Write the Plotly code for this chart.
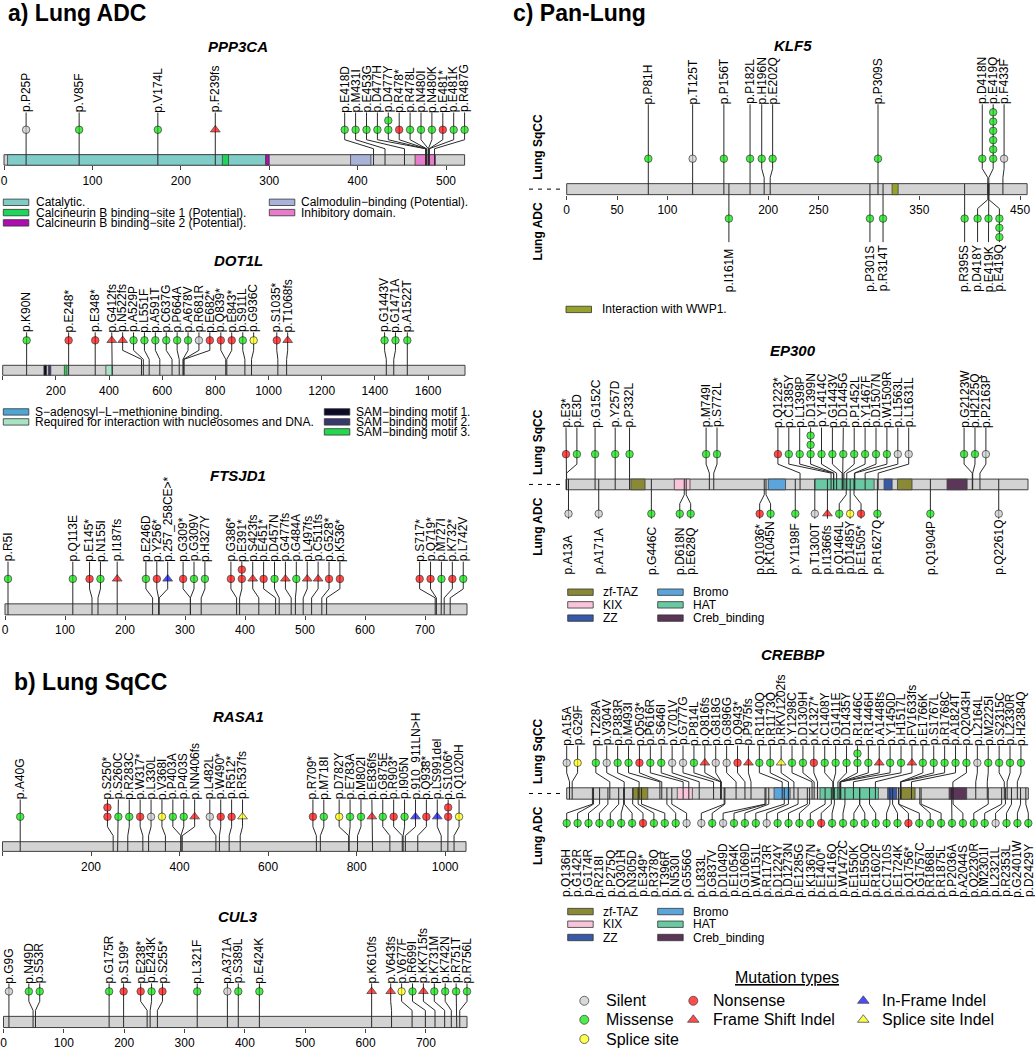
import re
import plotly.graph_objects as go

W, H = 1035, 1050
FONT = "Liberation Sans, Arial, Helvetica, sans-serif"

# ---------------- data ----------------
# mutation type codes: S silent, M missense, N nonsense, P splice site,
# F frame shift indel, I in-frame indel, Q splice site indel
TYPE_NAME = {"S": "Silent", "M": "Missense", "P": "Splice site", "N": "Nonsense",
             "F": "Frame Shift Indel", "I": "In-Frame Indel", "Q": "Splice site Indel"}
TYPE_COLOR = {"S": "#C8C8C8", "M": "#00E400", "N": "#FF0000", "P": "#FFFF00",
              "F": "#FF0000", "I": "#0000FF", "Q": "#FFFF00"}
TYPE_SYMBOL = {"S": "circle", "M": "circle", "N": "circle", "P": "circle",
               "F": "triangle-up", "I": "triangle-up", "Q": "triangle-up"}

PPP3CA_LEN = 521
PPP3CA_LABELS = ["p.P25P", "p.V85F", "p.V174L", "p.F239fs", "p.E418D", "p.M431I", "p.E453G",
                 "p.D477H", "p.D477Y", "p.R478*", "p.R478L", "p.N480I", "p.N480K", "p.E481*",
                 "p.E481K", "p.R487G"]
PPP3CA_TYPES = ["S", "M", "M", "F", "M", "M", "M", "M", "M", "N", "M", "M", "M", "N", "M", "M"]
PPP3CA_STACK = {"p.D477Y": 2}
PPP3CA_DOMAINS = [(4, 296, "Catalytic."),
                  (247, 254, "Calcineurin B binding−site 1 (Potential)."),
                  (296, 300, "Calcineurin B binding−site 2 (Potential)."),
                  (392, 415, "Calmodulin−binding (Potential)."),
                  (465, 488, "Inhibitory domain.")]

DOT1L_LEN = 1739
DOT1L_LABELS = ["p.K90N", "p.E248*", "p.E348*", "p.G412fs", "p.N522fs", "p.A529P", "p.L551F",
                "p.A591T", "p.C637G", "p.P664A", "p.A678V", "p.R681R", "p.E682*", "p.Q839*",
                "p.E843*", "p.S911L", "p.G936C", "p.S1035*", "p.T1068fs", "p.G1443V",
                "p.G1471A", "p.A1522T"]
DOT1L_TYPES = ["M", "N", "N", "F", "F", "M", "M", "M", "M", "M", "M", "S", "N", "N", "N", "M",
               "P", "N", "F", "M", "M", "M"]
DOT1L_STACK = {}
DOT1L_DOMAINS = [(155, 165, "SAM−binding motif 1."),
                 (172, 181, "SAM−binding motif 2."),
                 (232, 242, "SAM−binding motif 3."),
                 (388, 412, "Required for interaction with nucleosomes and DNA.")]

FTSJD1_LEN = 770
FTSJD1_LABELS = ["p.R5I", "p.Q113E", "p.E145*", "p.N155I", "p.I187fs", "p.E246D", "p.Y256*",
                 "p.257_258CE>*", "p.G309*", "p.G309V", "p.H327Y", "p.G386*", "p.E391*",
                 "p.S423fs", "p.E451*", "p.D457N", "p.G477fs", "p.G484A", "p.L497fs",
                 "p.C511fs", "p.G528*", "p.K536*", "p.S717*", "p.Q719*", "p.M727I", "p.K732*",
                 "p.L742V"]
FTSJD1_TYPES = ["M", "M", "N", "M", "F", "M", "N", "I", "N", "M", "M", "N", "N", "F", "N", "M",
                "F", "M", "F", "F", "N", "N", "N", "N", "M", "N", "M"]
FTSJD1_STACK = {"p.E391*": 2}

RASA1_LEN = 1047
RASA1_LABELS = ["p.A40G", "p.S250*", "p.S260C", "p.R283C", "p.W317*", "p.L330L", "p.V368I",
                "p.P403A", "p.P403S", "p.NN406fs", "p.L482L", "p.W490*", "p.R512*", "p.R537fs",
                "p.R709*", "p.M718I", "p.D782Y", "p.E783A", "p.M802I", "p.E836fs", "p.G875E",
                "p.R903*", "p.I905N", "p.910_911LN>H", "p.Q938*", "p.LS991del", "p.S1006*",
                "p.Q1020H"]
RASA1_TYPES = ["M", "N", "M", "M", "N", "S", "P", "M", "M", "F", "S", "N", "N", "Q", "N", "M",
               "P", "M", "M", "F", "M", "N", "M", "I", "N", "I", "N", "P"]
RASA1_STACK = {"p.S250*": 2, "p.S1006*": 2}

CUL3_LEN = 768
CUL3_LABELS = ["p.G9G", "p.N49D", "p.S53R", "p.G175R", "p.S199*", "p.E238*", "p.E243K",
               "p.S255*", "p.L321F", "p.A371A", "p.S389L", "p.E424K", "p.K610fs", "p.V643fs",
               "p.V677F", "p.R699I", "p.KK715fs", "p.K731M", "p.K742N", "p.R751T", "p.R756L"]
CUL3_TYPES = ["S", "M", "M", "M", "N", "N", "M", "N", "M", "S", "M", "M", "F", "F", "P", "M",
              "F", "M", "M", "M", "M"]
CUL3_STACK = {}

KLF5_LEN = 457
KLF5_SQ_LABELS = ["p.P81H", "p.T125T", "p.P156T", "p.P182L", "p.H196N", "p.E202Q", "p.P309S",
                  "p.D418N", "p.E419Q", "p.F433F"]
KLF5_SQ_TYPES = ["M", "S", "M", "M", "M", "M", "M", "M", "M", "S"]
KLF5_SQ_STACK = {"p.E419Q": 6}
KLF5_AD_LABELS = ["p.I161M", "p.P301S", "p.R314T", "p.R395S", "p.D418Y", "p.E419K", "p.E419Q"]
KLF5_AD_TYPES = ["M", "M", "M", "M", "M", "M", "M"]
KLF5_AD_STACK = {"p.E419Q": 3}
KLF5_DOMAINS = [(323, 329, "Interaction with WWP1.")]

EP300_LEN = 2414
EP300_SQ_LABELS = ["p.E3*", "p.E3D", "p.G152C", "p.Y257D", "p.P332L", "p.M749I", "p.S772L",
                   "p.Q1223*", "p.C1385Y", "p.L1398P", "p.D1399N", "p.Y1414C", "p.G1443V",
                   "p.D1445G", "p.P1452L", "p.Y1467F", "p.D1507N", "p.W1509R", "p.L1563L",
                   "p.L1631L", "p.G2123W", "p.H2125Q", "p.P2163P"]
EP300_SQ_TYPES = ["N", "M", "M", "M", "M", "M", "M", "N", "M", "M", "M", "M", "M", "M", "M",
                  "M", "M", "M", "S", "S", "M", "M", "S"]
EP300_SQ_STACK = {"p.D1399N": 3}
EP300_AD_LABELS = ["p.A13A", "p.A171A", "p.G446C", "p.D618N", "p.E628Q", "p.Q1036*",
                   "p.K1045N", "p.Y1198F", "p.T1300T", "p.I1366fs", "p.Q1464L", "p.D1485Y",
                   "p.E1505*", "p.R1627Q", "p.Q1904P", "p.Q2261Q"]
EP300_AD_TYPES = ["S", "S", "M", "M", "M", "N", "M", "M", "S", "F", "M", "P", "N", "M", "M", "S"]
EP300_AD_STACK = {}
EP300_DOMAINS = [(339, 413, "zf-TAZ"), (566, 648, "KIX"), (1057, 1147, "Bromo"),
                 (1300, 1610, "HAT"), (1662, 1704, "ZZ"), (1732, 1808, "zf-TAZ"),
                 (1991, 2096, "Creb_binding")]

CREBBP_LEN = 2442
CREBBP_SQ_LABELS = ["p.A15A", "p.G29F", "p.T228A", "p.V304V", "p.P383R", "p.M493I", "p.Q503*",
                    "p.P616R", "p.S646I", "p.V701V", "p.G777G", "p.P814L", "p.Q816fs",
                    "p.G818G", "p.G896G", "p.Q943*", "p.P975fs", "p.R1140Q", "p.R1173Q",
                    "p.RKV1202fs", "p.Y1298C", "p.D1309H", "p.K1327*", "p.C1408Y", "p.G1411E",
                    "p.D1435Y", "p.R1446C", "p.R1446H", "p.A1448fs", "p.Y1450D", "p.H1517L",
                    "p.FV1633fs", "p.E1766K", "p.S1767L", "p.R1768C", "p.A1824T", "p.Q2043H",
                    "p.L2164L", "p.M2225I", "p.S2315C", "p.L2330R", "p.H2384Q"]
CREBBP_SQ_TYPES = ["S", "P", "M", "S", "M", "M", "N", "M", "M", "S", "S", "M", "F", "S", "S",
                   "N", "F", "M", "M", "Q", "M", "M", "N", "M", "M", "M", "M", "M", "F", "M",
                   "M", "F", "M", "M", "M", "M", "M", "S", "M", "M", "M", "M"]
CREBBP_SQ_STACK = {"p.R1446C": 2}
CREBBP_AD_LABELS = ["p.Q136H", "p.G142R", "p.G174R", "p.R218I", "p.P275Q", "p.Q301H",
                    "p.N305D", "p.E349*", "p.R378Q", "p.T396R", "p.N530I", "p.G556G",
                    "p.L833L", "p.G837V", "p.D1049D", "p.E1054K", "p.G1069D", "p.W1151L",
                    "p.R1173R", "p.D1224Y", "p.D1273N", "p.E1285G", "p.K1367N", "p.E1400*",
                    "p.E1416Q", "p.W1472C", "p.E1550K", "p.E1550Q", "p.R1602F", "p.C1710S",
                    "p.E1724K", "p.Q1756*", "p.G1757C", "p.R1868L", "p.R1875L", "p.P2036A",
                    "p.A2044S", "p.Q2230R", "p.M2301I", "p.L2321L", "p.R2353L", "p.G2401W",
                    "p.D2429Y"]
CREBBP_AD_TYPES = ["M", "M", "M", "M", "M", "M", "M", "N", "M", "M", "M", "S",
                   "S", "M", "S", "M", "M", "M", "S", "M", "M", "M", "M", "N", "M", "M", "M",
                   "M", "M", "M", "M", "N", "M", "M", "M", "M", "M", "M", "M", "S", "M", "M",
                   "M"]
CREBBP_AD_STACK = {}
CREBBP_DOMAINS = [(353, 429, "zf-TAZ"), (585, 665, "KIX"), (1097, 1182, "Bromo"),
                  (1340, 1649, "HAT"), (1698, 1746, "ZZ"), (1769, 1843, "zf-TAZ"),
                  (2023, 2116, "Creb_binding")]

DOMAIN_COLOR = {
    "Catalytic.": "#80CDC8",
    "Calcineurin B binding−site 1 (Potential).": "#1ED75A",
    "Calcineurin B binding−site 2 (Potential).": "#B00CB0",
    "Calmodulin−binding (Potential).": "#A9B3D9",
    "Inhibitory domain.": "#E67CCB",
    "S−adenosyl−L−methionine binding.": "#4FA6D6",
    "Required for interaction with nucleosomes and DNA.": "#A8E4C4",
    "SAM−binding motif 1.": "#0A0A2A",
    "SAM−binding motif 2.": "#38386F",
    "SAM−binding motif 3.": "#22D94E",
    "Interaction with WWP1.": "#97A22A",
    "zf-TAZ": "#8A8A36",
    "KIX": "#F7C4DA",
    "ZZ": "#3858A8",
    "Bromo": "#5AA5DC",
    "HAT": "#68C9A2",
    "Creb_binding": "#5B3658",
}

# ---------------- layout geometry (pixels) ----------------
LABEL_GAP_PX = 10.9
STACK_PX = 9.3
HEAD_OFF = 25

PANELS = [
    dict(gene="PPP3CA", L=PPP3CA_LEN, p0=4.0, p1=464.6, bar=(155.0, 165.5), title=(238, 47),
         ticks=list(range(0, 501, 100)), domains=PPP3CA_DOMAINS,
         tracks=[dict(side="top", labels=PPP3CA_LABELS, types=PPP3CA_TYPES, stack=PPP3CA_STACK)]),
    dict(gene="DOT1L", L=DOT1L_LEN, p0=2.7, p1=465.0, bar=(366.0, 376.0), title=(238, 261),
         ticks=list(range(0, 1601, 200)), domains=DOT1L_DOMAINS,
         tracks=[dict(side="top", labels=DOT1L_LABELS, types=DOT1L_TYPES, stack=DOT1L_STACK)]),
    dict(gene="FTSJD1", L=FTSJD1_LEN, p0=5.0, p1=467.0, bar=(605.0, 616.0), title=(238, 476),
         ticks=list(range(0, 701, 100)), domains=[],
         tracks=[dict(side="top", labels=FTSJD1_LABELS, types=FTSJD1_TYPES, stack=FTSJD1_STACK)]),
    dict(gene="RASA1", L=RASA1_LEN, p0=2.5, p1=466.0, bar=(843.3, 853.0), title=(238, 718),
         ticks=list(range(0, 1001, 200)), domains=[],
         tracks=[dict(side="top", labels=RASA1_LABELS, types=RASA1_TYPES, stack=RASA1_STACK)]),
    dict(gene="CUL3", L=CUL3_LEN, p0=3.5, p1=467.0, bar=(1018.3, 1029.5), title=(238, 918),
         ticks=list(range(0, 701, 100)), domains=[],
         tracks=[dict(side="top", labels=CUL3_LABELS, types=CUL3_TYPES, stack=CUL3_STACK)]),
    dict(gene="KLF5", L=KLF5_LEN, p0=566.7, p1=1027.1, bar=(184.0, 195.0), title=(793, 46),
         ticks=[0, 50, 100, 200, 250, 350, 450], domains=KLF5_DOMAINS, pan=True,
         tracks=[dict(side="top", labels=KLF5_SQ_LABELS, types=KLF5_SQ_TYPES, stack=KLF5_SQ_STACK),
                 dict(side="bottom", labels=KLF5_AD_LABELS, types=KLF5_AD_TYPES,
                      stack=KLF5_AD_STACK, label_bot=293.3)]),
    dict(gene="EP300", L=EP300_LEN, p0=566.0, p1=1028.0, bar=(480.0, 490.7), title=(793, 351),
         ticks=None, domains=EP300_DOMAINS, pan=True,
         tracks=[dict(side="top", labels=EP300_SQ_LABELS, types=EP300_SQ_TYPES, stack=EP300_SQ_STACK),
                 dict(side="bottom", labels=EP300_AD_LABELS, types=EP300_AD_TYPES,
                      stack=EP300_AD_STACK, label_bot=576.7)]),
    dict(gene="CREBBP", L=CREBBP_LEN, p0=566.7, p1=1028.3, bar=(789.3, 800.7), title=(793, 656),
         ticks=None, domains=CREBBP_DOMAINS, pan=True,
         tracks=[dict(side="top", labels=CREBBP_SQ_LABELS, types=CREBBP_SQ_TYPES, stack=CREBBP_SQ_STACK),
                 dict(side="bottom", labels=CREBBP_AD_LABELS, types=CREBBP_AD_TYPES,
                      stack=CREBBP_AD_STACK, label_bot=900.0)]),
]

# domain legends: (name, box x0 px, text x px, y px)
LEGENDS = [
    ("Catalytic.", 3.3, 35, 202.7), ("Calcineurin B binding−site 1 (Potential).", 3.3, 35, 213.0),
    ("Calcineurin B binding−site 2 (Potential).", 3.3, 35, 223.3),
    ("Calmodulin−binding (Potential).", 269.3, 300, 202.7), ("Inhibitory domain.", 269.3, 300, 213.0),
    ("S−adenosyl−L−methionine binding.", 3.3, 33.5, 412.7),
    ("Required for interaction with nucleosomes and DNA.", 3.3, 33.5, 422.7),
    ("SAM−binding motif 1.", 324.3, 355, 412.7), ("SAM−binding motif 2.", 324.3, 355, 422.7),
    ("SAM−binding motif 3.", 324.3, 355, 432.7),
    ("Interaction with WWP1.", 566.0, 601, 310.0),
    ("zf-TAZ", 567.7, 601.7, 593.3), ("KIX", 567.7, 601.7, 606.0), ("ZZ", 567.7, 601.7, 619.3),
    ("Bromo", 657.7, 691.7, 593.3), ("HAT", 657.7, 691.7, 606.0), ("Creb_binding", 657.7, 691.7, 619.3),
    ("zf-TAZ", 567.7, 601.7, 913.3), ("KIX", 567.7, 601.7, 926.0), ("ZZ", 567.7, 601.7, 939.3),
    ("Bromo", 657.7, 691.7, 913.3), ("HAT", 657.7, 691.7, 926.0), ("Creb_binding", 657.7, 691.7, 939.3),
]

# mutation type legend: (code, marker x px, text x px, y px)
MUT_LEGEND = [("S", 584.3, 605, 1002.7), ("M", 584.3, 605, 1021.7), ("P", 584.3, 605, 1041.0),
              ("N", 693.3, 711.7, 1002.7), ("F", 693.3, 711.7, 1021.7),
              ("I", 863.3, 881, 1002.7), ("Q", 863.3, 881, 1021.7)]


def label_pos(label):
    return int(re.search(r"\d+", label).group())


def spread(pos, L, gap):
    """Mean-centred cluster spreading of labels, bounded to [0, L]."""
    order = sorted(range(len(pos)), key=lambda i: pos[i])
    clusters = [[i] for i in order]

    def start_of(c):
        m = sum(pos[i] for i in c) / len(c)
        k = len(c) - 1
        s = m - k * gap / 2.0
        return min(max(s, 0.0), L - k * gap)

    while True:
        starts = [start_of(c) for c in clusters]
        merged = False
        for j in range(len(clusters) - 1):
            end_j = starts[j] + (len(clusters[j]) - 1) * gap
            if starts[j + 1] - end_j < gap - 1e-6:
                clusters[j] = clusters[j] + clusters[j + 1]
                del clusters[j + 1]
                merged = True
                break
        if not merged:
            break
    out = [0.0] * len(pos)
    for c, s in zip(clusters, starts):
        for k, i in enumerate(c):
            out[i] = s + k * gap
    return out


fig = go.Figure()
shapes = []
annotations = []
layout_axes = {}


def txt(x, y, text, size=12, xanchor="left", yanchor="middle", angle=0, xref="paper",
        bold=False, italic=False, color="black"):
    t = text
    if italic:
        t = "<i>" + t + "</i>"
    if bold:
        t = "<b>" + t + "</b>"
    annotations.append(dict(x=x / W if xref == "paper" else x, y=y, xref=xref, yref="y",
                            text=t, showarrow=False, xanchor=xanchor, yanchor=yanchor,
                            textangle=angle, font=dict(size=size, color=color, family=FONT),
                            borderpad=0))


for n, P in enumerate(PANELS, start=1):
    xid = "x" if n == 1 else f"x{n}"
    L, p0, p1 = P["L"], P["p0"], P["p1"]
    s = (p1 - p0) / L
    d0, d1 = max(0.0, p0 - 9), min(W, p1 + 9)
    bar_top, bar_bot = P["bar"]
    ax = dict(domain=[d0 / W, d1 / W], range=[(d0 - p0) / s, (d1 - p0) / s],
              anchor="free", position=1 - bar_bot / H, showgrid=False, zeroline=False,
              showline=False, fixedrange=True)
    if P["ticks"] is not None:
        ax.update(tickmode="array", tickvals=P["ticks"], ticks="outside", ticklen=4,
                  tickwidth=1, tickcolor="#444", tickfont=dict(size=12, family=FONT, color="black"))
    else:
        ax.update(showticklabels=False, ticks="")
    layout_axes["xaxis" if n == 1 else f"xaxis{n}"] = ax

    # protein bar and domains
    shapes.append(dict(type="rect", xref=xid, yref="y", x0=0, x1=L, y0=bar_top, y1=bar_bot,
                       fillcolor="#D3D3D3", line=dict(color="#404040", width=1), layer="below"))
    for (a, b, name) in P["domains"]:
        shapes.append(dict(type="rect", xref=xid, yref="y", x0=a, x1=b, y0=bar_top, y1=bar_bot,
                           fillcolor=DOMAIN_COLOR[name], line=dict(color="#404040", width=0.8),
                           layer="below"))

    # title
    txt(P["title"][0], P["title"][1], P["gene"], size=15, xanchor="center", bold=True, italic=True)

    gap = LABEL_GAP_PX / s
    for T in P["tracks"]:
        labels, types, stack = T["labels"], T["types"], T["stack"]
        pos = [label_pos(l) for l in labels]
        lx = spread(pos, L, gap)
        maxstack = max([stack.get(l, 1) for l in labels])
        sx, sy, hx, hy, hc, hs = [], [], [], [], [], []
        if T["side"] == "top":
            head_y = bar_top - HEAD_OFF
            lab_y = head_y - 8 - (maxstack - 1) * STACK_PX
            for l, p, x, t in zip(labels, pos, lx, types):
                sx += [p, p, x, x, None]
                sy += [bar_bot, bar_top - 6, bar_top - 15, lab_y, None]
                for k in range(stack.get(l, 1)):
                    hx.append(x); hy.append(head_y - k * STACK_PX)
                    hc.append(TYPE_COLOR[t]); hs.append(TYPE_SYMBOL[t])
                annotations.append(dict(x=x, y=lab_y + 1, xref=xid, yref="y", text=l,
                                        showarrow=False, textangle=-90, xanchor="center",
                                        yanchor="bottom", borderpad=0,
                                        font=dict(size=12, family=FONT, color="black")))
        else:
            head_y = bar_bot + HEAD_OFF - 1
            stem_end = head_y + (maxstack - 1) * STACK_PX + 5
            for l, p, x, t in zip(labels, pos, lx, types):
                sx += [p, p, x, x, None]
                sy += [bar_top, bar_bot + 5, bar_bot + 14, stem_end, None]
                for k in range(stack.get(l, 1)):
                    hx.append(x); hy.append(head_y + k * STACK_PX)
                    hc.append(TYPE_COLOR[t]); hs.append(TYPE_SYMBOL[t])
                annotations.append(dict(x=x, y=T["label_bot"], xref=xid, yref="y", text=l,
                                        showarrow=False, textangle=-90, xanchor="center",
                                        yanchor="bottom", borderpad=0,
                                        font=dict(size=12, family=FONT, color="black")))
        fig.add_trace(go.Scatter(x=sx, y=sy, xaxis=xid, yaxis="y", mode="lines",
                                 line=dict(color="#2A2A2A", width=1), hoverinfo="skip",
                                 showlegend=False, cliponaxis=False))
        sizes = [8.5 if sym == "triangle-up" else 7.5 for sym in hs]
        fig.add_trace(go.Scatter(x=hx, y=hy, xaxis=xid, yaxis="y", mode="markers",
                                 marker=dict(color=hc, symbol=hs, size=sizes,
                                             line=dict(color="black", width=0.8)),
                                 hoverinfo="skip", showlegend=False, cliponaxis=False))

    if P.get("pan"):
        cy = (bar_top + bar_bot) / 2
        txt(538, cy - 42.5, "Lung SqCC", size=12, xanchor="center", angle=-90, bold=True)
        txt(538, cy + 42.5, "Lung ADC", size=12, xanchor="center", angle=-90, bold=True)
        shapes.append(dict(type="line", xref="paper", yref="y", x0=529 / W, x1=563 / W,
                           y0=cy, y1=cy, line=dict(color="black", width=1, dash="4px,5px")))

# domain legend boxes and texts
for name, bx, tx, y in LEGENDS:
    shapes.append(dict(type="rect", xref="paper", yref="y", x0=bx / W, x1=(bx + 25.5) / W,
                       y0=y - 3.2, y1=y + 3.2, fillcolor=DOMAIN_COLOR[name],
                       line=dict(color="#333333", width=0.8)))
    txt(tx, y, name, size=12)

# mutation type legend (pixel-unit helper axis)
nL = len(PANELS) + 1
layout_axes[f"xaxis{nL}"] = dict(domain=[0, 1], range=[0, W], visible=False, fixedrange=True,
                                 anchor="y")
fig.add_trace(go.Scatter(x=[m[1] for m in MUT_LEGEND], y=[m[3] for m in MUT_LEGEND],
                         xaxis=f"x{nL}", yaxis="y", mode="markers",
                         marker=dict(color=[TYPE_COLOR[m[0]] for m in MUT_LEGEND],
                                     symbol=[TYPE_SYMBOL[m[0]] for m in MUT_LEGEND],
                                     size=[10 if TYPE_SYMBOL[m[0]] == "triangle-up" else 9
                                           for m in MUT_LEGEND],
                                     line=dict(color="black", width=0.8)),
                         hoverinfo="skip", showlegend=False, cliponaxis=False))
for code, mx, tx, y in MUT_LEGEND:
    txt(tx, y, TYPE_NAME[code], size=16)
txt(786.7, 979, "<u>Mutation types</u>", size=16, xanchor="center")

# panel headings
txt(7, 13, "a) Lung ADC", size=23, bold=True)
txt(12.5, 683, "b) Lung SqCC", size=23, bold=True)
txt(512, 13, "c) Pan-Lung", size=23, bold=True)

fig.update_layout(
    width=W, height=H, margin=dict(l=0, r=0, t=0, b=0),
    paper_bgcolor="white", plot_bgcolor="rgba(0,0,0,0)",
    showlegend=False, shapes=shapes, annotations=annotations,
    font=dict(family=FONT, size=12, color="black"),
    yaxis=dict(domain=[0, 1], range=[H, 0], visible=False, fixedrange=True),
    **layout_axes,
)

fig.write_html("out.html", include_plotlyjs=True, full_html=True,
               config={"displayModeBar": False, "staticPlot": True},
               post_script="document.body.style.margin='0';")
